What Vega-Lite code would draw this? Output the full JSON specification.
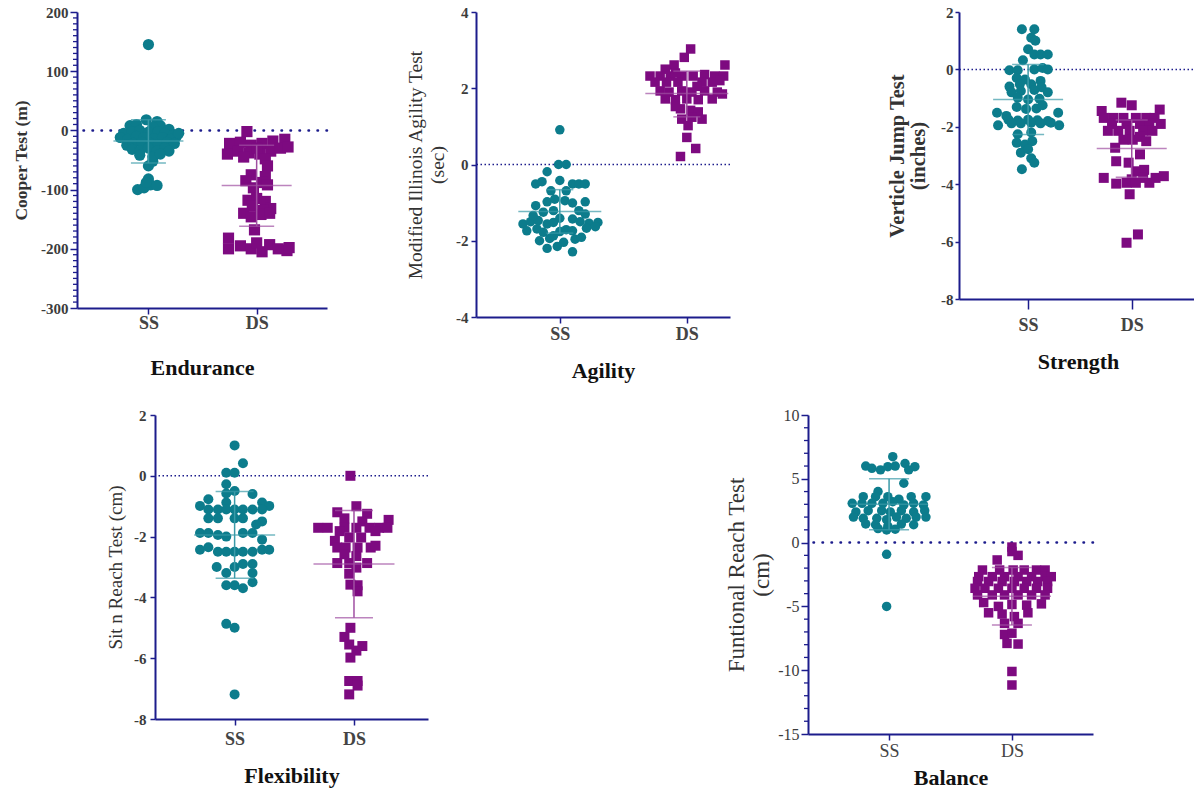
{
"$schema":"https://vega.github.io/schema/vega-lite/v6.json",
"padding":{"left":12,"top":5,"right":0,"bottom":0},
"background":"white",
"datasets":{
"minor":[
{"p":"E","v":-290},{"p":"E","v":-280},{"p":"E","v":-270},{"p":"E","v":-260},{"p":"E","v":-250},{"p":"E","v":-240},{"p":"E","v":-230},{"p":"E","v":-220},{"p":"E","v":-210},{"p":"E","v":-190},{"p":"E","v":-180},{"p":"E","v":-170},{"p":"E","v":-160},{"p":"E","v":-150},{"p":"E","v":-140},{"p":"E","v":-130},{"p":"E","v":-120},{"p":"E","v":-110},{"p":"E","v":-90},{"p":"E","v":-80},{"p":"E","v":-70},{"p":"E","v":-60},{"p":"E","v":-50},{"p":"E","v":-40},{"p":"E","v":-30},{"p":"E","v":-20},{"p":"E","v":-10},{"p":"E","v":10},{"p":"E","v":20},{"p":"E","v":30},{"p":"E","v":40},{"p":"E","v":50},{"p":"E","v":60},{"p":"E","v":70},{"p":"E","v":80},{"p":"E","v":90},{"p":"E","v":110},{"p":"E","v":120},{"p":"E","v":130},{"p":"E","v":140},{"p":"E","v":150},{"p":"E","v":160},{"p":"E","v":170},{"p":"E","v":180},{"p":"E","v":190},
{"p":"B","v":-14},{"p":"B","v":-13},{"p":"B","v":-12},{"p":"B","v":-11},{"p":"B","v":-9},{"p":"B","v":-8},{"p":"B","v":-7},{"p":"B","v":-6},{"p":"B","v":-4},{"p":"B","v":-3},{"p":"B","v":-2},{"p":"B","v":-1},{"p":"B","v":1},{"p":"B","v":2},{"p":"B","v":3},{"p":"B","v":4},{"p":"B","v":6},{"p":"B","v":7},{"p":"B","v":8},{"p":"B","v":9}
],
"st":[
{"p":"E","g":"SS","x":0,"m":-18,"lo":-55,"hi":18},
{"p":"E","g":"DS","x":1,"m":-93,"lo":-162,"hi":-25},
{"p":"A","g":"SS","x":0,"m":-1.23,"lo":-1.8,"hi":-0.66},
{"p":"A","g":"DS","x":1,"m":1.86,"lo":1.25,"hi":2.45},
{"p":"S","g":"SS","x":0,"m":-1.05,"lo":-2.27,"hi":0.17},
{"p":"S","g":"DS","x":1,"m":-2.76,"lo":-3.76,"hi":-1.76},
{"p":"F","g":"SS","x":0,"m":-1.95,"lo":-3.37,"hi":-0.52},
{"p":"F","g":"DS","x":1,"m":-2.9,"lo":-4.67,"hi":-1.14},
{"p":"B","g":"SS","x":0,"m":3.0,"lo":1.0,"hi":5.0},
{"p":"B","g":"DS","x":1,"m":-4.2,"lo":-6.45,"hi":-1.95}
],
"pts":[
{"p":"E","g":"SS","x":0,"y":145},{"p":"E","g":"SS","x":-0.1,"y":-100},{"p":"E","g":"SS","x":-0.04,"y":-97},{"p":"E","g":"SS","x":0.02,"y":-92},{"p":"E","g":"SS","x":0.08,"y":-93},{"p":"E","g":"SS","x":0,"y":-82},{"p":"E","g":"SS","x":-0.02,"y":-88},{"p":"E","g":"SS","x":0,"y":-60},{"p":"E","g":"SS","x":0.04,"y":-52},{"p":"E","g":"SS","x":-0.02,"y":18},{"p":"E","g":"SS","x":0.08,"y":15},{"p":"E","g":"SS","x":0.11,"y":8},{"p":"E","g":"SS","x":-0.17,"y":8},{"p":"E","g":"SS","x":-0.11,"y":10},{"p":"E","g":"SS","x":0.04,"y":5},{"p":"E","g":"SS","x":0.19,"y":2},{"p":"E","g":"SS","x":-0.23,"y":-5},{"p":"E","g":"SS","x":-0.15,"y":-2},{"p":"E","g":"SS","x":-0.08,"y":0},{"p":"E","g":"SS","x":0,"y":-3},{"p":"E","g":"SS","x":0.09,"y":-2},{"p":"E","g":"SS","x":0.15,"y":-5},{"p":"E","g":"SS","x":0.23,"y":-8},{"p":"E","g":"SS","x":0.26,"y":-10},{"p":"E","g":"SS","x":-0.26,"y":-12},{"p":"E","g":"SS","x":-0.19,"y":-15},{"p":"E","g":"SS","x":-0.11,"y":-10},{"p":"E","g":"SS","x":-0.04,"y":-12},{"p":"E","g":"SS","x":0.05,"y":-14},{"p":"E","g":"SS","x":0.13,"y":-12},{"p":"E","g":"SS","x":0.21,"y":-15},{"p":"E","g":"SS","x":0.28,"y":-5},{"p":"E","g":"SS","x":-0.2,"y":-25},{"p":"E","g":"SS","x":-0.14,"y":-22},{"p":"E","g":"SS","x":-0.06,"y":-20},{"p":"E","g":"SS","x":0.02,"y":-22},{"p":"E","g":"SS","x":0.09,"y":-25},{"p":"E","g":"SS","x":0.17,"y":-20},{"p":"E","g":"SS","x":0.24,"y":-22},{"p":"E","g":"SS","x":-0.15,"y":-32},{"p":"E","g":"SS","x":-0.08,"y":-35},{"p":"E","g":"SS","x":0,"y":-30},{"p":"E","g":"SS","x":0.08,"y":-35},{"p":"E","g":"SS","x":0.15,"y":-30},{"p":"E","g":"SS","x":0.19,"y":-35},{"p":"E","g":"SS","x":-0.08,"y":-42},{"p":"E","g":"SS","x":0.04,"y":-45},{"p":"E","g":"SS","x":0.11,"y":-40},
{"p":"E","g":"DS","x":0.91,"y":-2},{"p":"E","g":"DS","x":0.75,"y":-22},{"p":"E","g":"DS","x":0.85,"y":-20},{"p":"E","g":"DS","x":0.95,"y":-25},{"p":"E","g":"DS","x":1.05,"y":-22},{"p":"E","g":"DS","x":1.15,"y":-18},{"p":"E","g":"DS","x":1.26,"y":-15},{"p":"E","g":"DS","x":0.73,"y":-40},{"p":"E","g":"DS","x":0.83,"y":-35},{"p":"E","g":"DS","x":0.93,"y":-38},{"p":"E","g":"DS","x":1.03,"y":-40},{"p":"E","g":"DS","x":1.13,"y":-35},{"p":"E","g":"DS","x":1.22,"y":-30},{"p":"E","g":"DS","x":1.29,"y":-28},{"p":"E","g":"DS","x":1.0,"y":-30},{"p":"E","g":"DS","x":0.88,"y":-45},{"p":"E","g":"DS","x":1.08,"y":-48},{"p":"E","g":"DS","x":1.1,"y":-60},{"p":"E","g":"DS","x":0.95,"y":-75},{"p":"E","g":"DS","x":1.08,"y":-78},{"p":"E","g":"DS","x":0.9,"y":-85},{"p":"E","g":"DS","x":1.05,"y":-88},{"p":"E","g":"DS","x":0.97,"y":-97},{"p":"E","g":"DS","x":1.1,"y":-92},{"p":"E","g":"DS","x":0.92,"y":-118},{"p":"E","g":"DS","x":1.0,"y":-115},{"p":"E","g":"DS","x":1.08,"y":-120},{"p":"E","g":"DS","x":1.13,"y":-132},{"p":"E","g":"DS","x":0.96,"y":-128},{"p":"E","g":"DS","x":1.06,"y":-135},{"p":"E","g":"DS","x":0.88,"y":-140},{"p":"E","g":"DS","x":0.95,"y":-146},{"p":"E","g":"DS","x":1.04,"y":-142},{"p":"E","g":"DS","x":1.12,"y":-140},{"p":"E","g":"DS","x":0.98,"y":-168},{"p":"E","g":"DS","x":0.74,"y":-182},{"p":"E","g":"DS","x":0.74,"y":-200},{"p":"E","g":"DS","x":0.85,"y":-195},{"p":"E","g":"DS","x":0.95,"y":-200},{"p":"E","g":"DS","x":1.05,"y":-205},{"p":"E","g":"DS","x":1.12,"y":-193},{"p":"E","g":"DS","x":1.2,"y":-200},{"p":"E","g":"DS","x":1.28,"y":-203},{"p":"E","g":"DS","x":1.3,"y":-198},{"p":"E","g":"DS","x":1.0,"y":-190},
{"p":"A","g":"SS","x":0,"y":0.91},{"p":"A","g":"SS","x":-0.01,"y":0},{"p":"A","g":"SS","x":0.05,"y":0},{"p":"A","g":"SS","x":-0.1,"y":-0.19},{"p":"A","g":"SS","x":-0.19,"y":-0.51},{"p":"A","g":"SS","x":-0.14,"y":-0.45},{"p":"A","g":"SS","x":0,"y":-0.42},{"p":"A","g":"SS","x":0.1,"y":-0.51},{"p":"A","g":"SS","x":0.15,"y":-0.51},{"p":"A","g":"SS","x":0.2,"y":-0.51},{"p":"A","g":"SS","x":-0.07,"y":-0.69},{"p":"A","g":"SS","x":0.05,"y":-0.69},{"p":"A","g":"SS","x":-0.19,"y":-1.08},{"p":"A","g":"SS","x":-0.1,"y":-0.98},{"p":"A","g":"SS","x":-0.04,"y":-0.91},{"p":"A","g":"SS","x":0.04,"y":-0.95},{"p":"A","g":"SS","x":0.1,"y":-1.01},{"p":"A","g":"SS","x":0.2,"y":-0.98},{"p":"A","g":"SS","x":-0.13,"y":-1.25},{"p":"A","g":"SS","x":0.15,"y":-1.21},{"p":"A","g":"SS","x":0.2,"y":-1.3},{"p":"A","g":"SS","x":-0.05,"y":-1.21},{"p":"A","g":"SS","x":-0.29,"y":-1.56},{"p":"A","g":"SS","x":-0.23,"y":-1.5},{"p":"A","g":"SS","x":-0.17,"y":-1.47},{"p":"A","g":"SS","x":-0.1,"y":-1.56},{"p":"A","g":"SS","x":-0.05,"y":-1.52},{"p":"A","g":"SS","x":0,"y":-1.41},{"p":"A","g":"SS","x":0.1,"y":-1.43},{"p":"A","g":"SS","x":0.16,"y":-1.5},{"p":"A","g":"SS","x":0.23,"y":-1.54},{"p":"A","g":"SS","x":0.3,"y":-1.52},{"p":"A","g":"SS","x":-0.26,"y":-1.74},{"p":"A","g":"SS","x":-0.18,"y":-1.69},{"p":"A","g":"SS","x":-0.13,"y":-1.78},{"p":"A","g":"SS","x":0,"y":-1.76},{"p":"A","g":"SS","x":0.05,"y":-1.71},{"p":"A","g":"SS","x":0.1,"y":-1.74},{"p":"A","g":"SS","x":0.21,"y":-1.67},{"p":"A","g":"SS","x":0.28,"y":-1.63},{"p":"A","g":"SS","x":-0.16,"y":-2.0},{"p":"A","g":"SS","x":-0.08,"y":-1.94},{"p":"A","g":"SS","x":0.03,"y":-2.04},{"p":"A","g":"SS","x":0.12,"y":-1.96},{"p":"A","g":"SS","x":0.17,"y":-1.91},{"p":"A","g":"SS","x":-0.1,"y":-2.2},{"p":"A","g":"SS","x":-0.02,"y":-2.15},{"p":"A","g":"SS","x":0.1,"y":-2.29},{"p":"A","g":"SS","x":-0.05,"y":-1.87},{"p":"A","g":"SS","x":-0.21,"y":-1.34},
{"p":"A","g":"DS","x":1.03,"y":3.03},{"p":"A","g":"DS","x":0.98,"y":2.81},{"p":"A","g":"DS","x":1.3,"y":2.61},{"p":"A","g":"DS","x":0.9,"y":2.61},{"p":"A","g":"DS","x":0.83,"y":2.5},{"p":"A","g":"DS","x":0.71,"y":2.32},{"p":"A","g":"DS","x":0.79,"y":2.32},{"p":"A","g":"DS","x":0.87,"y":2.32},{"p":"A","g":"DS","x":0.96,"y":2.32},{"p":"A","g":"DS","x":1.05,"y":2.32},{"p":"A","g":"DS","x":1.14,"y":2.36},{"p":"A","g":"DS","x":1.22,"y":2.32},{"p":"A","g":"DS","x":1.29,"y":2.32},{"p":"A","g":"DS","x":0.75,"y":2.16},{"p":"A","g":"DS","x":0.84,"y":2.16},{"p":"A","g":"DS","x":0.93,"y":2.16},{"p":"A","g":"DS","x":1.12,"y":2.16},{"p":"A","g":"DS","x":1.2,"y":2.16},{"p":"A","g":"DS","x":1.26,"y":2.2},{"p":"A","g":"DS","x":0.79,"y":1.93},{"p":"A","g":"DS","x":0.86,"y":1.9},{"p":"A","g":"DS","x":0.96,"y":1.93},{"p":"A","g":"DS","x":1.04,"y":1.9},{"p":"A","g":"DS","x":1.14,"y":1.93},{"p":"A","g":"DS","x":1.24,"y":1.9},{"p":"A","g":"DS","x":1.28,"y":1.85},{"p":"A","g":"DS","x":0.83,"y":1.72},{"p":"A","g":"DS","x":0.91,"y":1.7},{"p":"A","g":"DS","x":1.0,"y":1.72},{"p":"A","g":"DS","x":1.09,"y":1.7},{"p":"A","g":"DS","x":1.2,"y":1.72},{"p":"A","g":"DS","x":0.95,"y":1.46},{"p":"A","g":"DS","x":1.03,"y":1.42},{"p":"A","g":"DS","x":1.09,"y":1.38},{"p":"A","g":"DS","x":0.96,"y":1.19},{"p":"A","g":"DS","x":1.04,"y":1.24},{"p":"A","g":"DS","x":1.12,"y":1.19},{"p":"A","g":"DS","x":1.01,"y":1.02},{"p":"A","g":"DS","x":1.0,"y":0.71},{"p":"A","g":"DS","x":1.07,"y":0.42},{"p":"A","g":"DS","x":0.95,"y":0.21},{"p":"A","g":"DS","x":0.91,"y":2.4},{"p":"A","g":"DS","x":1.08,"y":2.05},{"p":"A","g":"DS","x":0.91,"y":1.52},
{"p":"S","g":"SS","x":-0.06,"y":1.4},{"p":"S","g":"SS","x":0.06,"y":1.4},{"p":"S","g":"SS","x":0.03,"y":1.1},{"p":"S","g":"SS","x":0.07,"y":1.0},{"p":"S","g":"SS","x":0,"y":0.7},{"p":"S","g":"SS","x":0.06,"y":0.52},{"p":"S","g":"SS","x":0.12,"y":0.52},{"p":"S","g":"SS","x":0.19,"y":0.52},{"p":"S","g":"SS","x":-0.05,"y":0.32},{"p":"S","g":"SS","x":-0.18,"y":-0.03},{"p":"S","g":"SS","x":-0.1,"y":-0.03},{"p":"S","g":"SS","x":0.06,"y":0},{"p":"S","g":"SS","x":0.14,"y":0.05},{"p":"S","g":"SS","x":0.19,"y":0},{"p":"S","g":"SS","x":-0.11,"y":-0.3},{"p":"S","g":"SS","x":-0.03,"y":-0.35},{"p":"S","g":"SS","x":0.12,"y":-0.4},{"p":"S","g":"SS","x":-0.18,"y":-0.6},{"p":"S","g":"SS","x":-0.08,"y":-0.52},{"p":"S","g":"SS","x":0.03,"y":-0.52},{"p":"S","g":"SS","x":0.13,"y":-0.62},{"p":"S","g":"SS","x":-0.16,"y":-0.8},{"p":"S","g":"SS","x":-0.07,"y":-0.75},{"p":"S","g":"SS","x":0.06,"y":-0.72},{"p":"S","g":"SS","x":0.19,"y":-0.8},{"p":"S","g":"SS","x":-0.1,"y":-0.99},{"p":"S","g":"SS","x":0,"y":-1.05},{"p":"S","g":"SS","x":0.11,"y":-1.02},{"p":"S","g":"SS","x":-0.11,"y":-1.31},{"p":"S","g":"SS","x":-0.02,"y":-1.38},{"p":"S","g":"SS","x":0.08,"y":-1.36},{"p":"S","g":"SS","x":0.14,"y":-1.25},{"p":"S","g":"SS","x":-0.3,"y":-1.51},{"p":"S","g":"SS","x":0.29,"y":-1.51},{"p":"S","g":"SS","x":-0.21,"y":-1.62},{"p":"S","g":"SS","x":-0.19,"y":-1.75},{"p":"S","g":"SS","x":-0.1,"y":-1.78},{"p":"S","g":"SS","x":0,"y":-1.75},{"p":"S","g":"SS","x":0.09,"y":-1.77},{"p":"S","g":"SS","x":0.19,"y":-1.8},{"p":"S","g":"SS","x":-0.29,"y":-1.95},{"p":"S","g":"SS","x":-0.16,"y":-1.88},{"p":"S","g":"SS","x":-0.07,"y":-1.88},{"p":"S","g":"SS","x":0.03,"y":-1.86},{"p":"S","g":"SS","x":0.12,"y":-1.88},{"p":"S","g":"SS","x":0.22,"y":-1.86},{"p":"S","g":"SS","x":0.3,"y":-1.95},{"p":"S","g":"SS","x":-0.1,"y":-2.26},{"p":"S","g":"SS","x":0.03,"y":-2.2},{"p":"S","g":"SS","x":-0.11,"y":-2.56},{"p":"S","g":"SS","x":-0.03,"y":-2.62},{"p":"S","g":"SS","x":0.04,"y":-2.5},{"p":"S","g":"SS","x":-0.07,"y":-2.9},{"p":"S","g":"SS","x":0,"y":-2.78},{"p":"S","g":"SS","x":0.03,"y":-3.1},{"p":"S","g":"SS","x":0.06,"y":-3.25},{"p":"S","g":"SS","x":-0.06,"y":-3.48},
{"p":"S","g":"DS","x":0.9,"y":-1.16},{"p":"S","g":"DS","x":1.0,"y":-1.25},{"p":"S","g":"DS","x":0.71,"y":-1.45},{"p":"S","g":"DS","x":1.27,"y":-1.4},{"p":"S","g":"DS","x":0.73,"y":-1.69},{"p":"S","g":"DS","x":0.82,"y":-1.69},{"p":"S","g":"DS","x":0.92,"y":-1.69},{"p":"S","g":"DS","x":1.04,"y":-1.69},{"p":"S","g":"DS","x":1.14,"y":-1.69},{"p":"S","g":"DS","x":1.22,"y":-1.69},{"p":"S","g":"DS","x":0.81,"y":-1.9},{"p":"S","g":"DS","x":0.95,"y":-1.9},{"p":"S","g":"DS","x":1.08,"y":-1.9},{"p":"S","g":"DS","x":1.17,"y":-1.9},{"p":"S","g":"DS","x":1.28,"y":-1.9},{"p":"S","g":"DS","x":0.77,"y":-2.14},{"p":"S","g":"DS","x":0.87,"y":-2.14},{"p":"S","g":"DS","x":0.98,"y":-2.14},{"p":"S","g":"DS","x":1.11,"y":-2.14},{"p":"S","g":"DS","x":1.2,"y":-2.14},{"p":"S","g":"DS","x":0.92,"y":-2.45},{"p":"S","g":"DS","x":1.01,"y":-2.45},{"p":"S","g":"DS","x":1.08,"y":-2.35},{"p":"S","g":"DS","x":0.84,"y":-2.73},{"p":"S","g":"DS","x":0.85,"y":-3.2},{"p":"S","g":"DS","x":0.97,"y":-3.25},{"p":"S","g":"DS","x":1.08,"y":-2.96},{"p":"S","g":"DS","x":1.12,"y":-3.5},{"p":"S","g":"DS","x":1.04,"y":-3.55},{"p":"S","g":"DS","x":0.73,"y":-3.78},{"p":"S","g":"DS","x":0.85,"y":-3.98},{"p":"S","g":"DS","x":1.0,"y":-3.83},{"p":"S","g":"DS","x":1.11,"y":-3.78},{"p":"S","g":"DS","x":1.23,"y":-3.78},{"p":"S","g":"DS","x":1.31,"y":-3.72},{"p":"S","g":"DS","x":0.95,"y":-3.95},{"p":"S","g":"DS","x":1.04,"y":-3.95},{"p":"S","g":"DS","x":1.17,"y":-3.95},{"p":"S","g":"DS","x":0.98,"y":-4.35},{"p":"S","g":"DS","x":1.06,"y":-5.75},{"p":"S","g":"DS","x":0.95,"y":-6.04},{"p":"S","g":"DS","x":1.14,"y":-2.5},
{"p":"F","g":"SS","x":0,"y":1.0},{"p":"F","g":"SS","x":0.07,"y":0.41},{"p":"F","g":"SS","x":-0.07,"y":0.1},{"p":"F","g":"SS","x":0,"y":0.1},{"p":"F","g":"SS","x":-0.07,"y":-0.28},{"p":"F","g":"SS","x":-0.07,"y":-0.58},{"p":"F","g":"SS","x":0,"y":-0.5},{"p":"F","g":"SS","x":0.15,"y":-0.6},{"p":"F","g":"SS","x":-0.22,"y":-0.77},{"p":"F","g":"SS","x":-0.07,"y":-0.88},{"p":"F","g":"SS","x":-0.29,"y":-0.99},{"p":"F","g":"SS","x":0.23,"y":-0.88},{"p":"F","g":"SS","x":0.29,"y":-0.99},{"p":"F","g":"SS","x":-0.22,"y":-1.11},{"p":"F","g":"SS","x":-0.14,"y":-1.11},{"p":"F","g":"SS","x":-0.07,"y":-1.11},{"p":"F","g":"SS","x":0,"y":-1.11},{"p":"F","g":"SS","x":0.07,"y":-1.11},{"p":"F","g":"SS","x":0.15,"y":-1.11},{"p":"F","g":"SS","x":0.23,"y":-1.11},{"p":"F","g":"SS","x":-0.22,"y":-1.4},{"p":"F","g":"SS","x":-0.14,"y":-1.4},{"p":"F","g":"SS","x":0,"y":-1.4},{"p":"F","g":"SS","x":0.07,"y":-1.4},{"p":"F","g":"SS","x":0.23,"y":-1.5},{"p":"F","g":"SS","x":0.18,"y":-1.6},{"p":"F","g":"SS","x":-0.29,"y":-1.88},{"p":"F","g":"SS","x":-0.22,"y":-1.88},{"p":"F","g":"SS","x":-0.14,"y":-1.95},{"p":"F","g":"SS","x":-0.07,"y":-2.0},{"p":"F","g":"SS","x":0.07,"y":-1.88},{"p":"F","g":"SS","x":0.15,"y":-1.88},{"p":"F","g":"SS","x":0.23,"y":-2.1},{"p":"F","g":"SS","x":-0.29,"y":-2.43},{"p":"F","g":"SS","x":-0.22,"y":-2.35},{"p":"F","g":"SS","x":-0.14,"y":-2.5},{"p":"F","g":"SS","x":-0.07,"y":-2.5},{"p":"F","g":"SS","x":0,"y":-2.5},{"p":"F","g":"SS","x":0.07,"y":-2.5},{"p":"F","g":"SS","x":0.15,"y":-2.5},{"p":"F","g":"SS","x":0.23,"y":-2.43},{"p":"F","g":"SS","x":0.29,"y":-2.43},{"p":"F","g":"SS","x":-0.15,"y":-3.0},{"p":"F","g":"SS","x":-0.07,"y":-3.2},{"p":"F","g":"SS","x":0,"y":-3.0},{"p":"F","g":"SS","x":0.07,"y":-2.9},{"p":"F","g":"SS","x":0.15,"y":-2.9},{"p":"F","g":"SS","x":0.15,"y":-3.2},{"p":"F","g":"SS","x":-0.07,"y":-3.6},{"p":"F","g":"SS","x":0,"y":-3.6},{"p":"F","g":"SS","x":0.07,"y":-3.7},{"p":"F","g":"SS","x":0.15,"y":-3.5},{"p":"F","g":"SS","x":-0.07,"y":-4.87},{"p":"F","g":"SS","x":0,"y":-5.0},{"p":"F","g":"SS","x":0,"y":-7.19},
{"p":"F","g":"DS","x":0.97,"y":0},{"p":"F","g":"DS","x":1.02,"y":-1.0},{"p":"F","g":"DS","x":0.86,"y":-1.2},{"p":"F","g":"DS","x":1.11,"y":-1.25},{"p":"F","g":"DS","x":0.92,"y":-1.4},{"p":"F","g":"DS","x":1.07,"y":-1.5},{"p":"F","g":"DS","x":1.29,"y":-1.45},{"p":"F","g":"DS","x":0.7,"y":-1.71},{"p":"F","g":"DS","x":0.78,"y":-1.71},{"p":"F","g":"DS","x":0.92,"y":-1.71},{"p":"F","g":"DS","x":1.02,"y":-1.71},{"p":"F","g":"DS","x":1.13,"y":-1.71},{"p":"F","g":"DS","x":1.21,"y":-1.71},{"p":"F","g":"DS","x":1.28,"y":-1.71},{"p":"F","g":"DS","x":0.88,"y":-1.82},{"p":"F","g":"DS","x":1.18,"y":-1.82},{"p":"F","g":"DS","x":0.84,"y":-2.14},{"p":"F","g":"DS","x":0.96,"y":-2.03},{"p":"F","g":"DS","x":1.06,"y":-2.03},{"p":"F","g":"DS","x":0.86,"y":-2.36},{"p":"F","g":"DS","x":0.93,"y":-2.36},{"p":"F","g":"DS","x":1.03,"y":-2.36},{"p":"F","g":"DS","x":1.14,"y":-2.36},{"p":"F","g":"DS","x":1.18,"y":-2.3},{"p":"F","g":"DS","x":0.92,"y":-2.58},{"p":"F","g":"DS","x":1.02,"y":-2.64},{"p":"F","g":"DS","x":0.86,"y":-2.87},{"p":"F","g":"DS","x":0.96,"y":-2.87},{"p":"F","g":"DS","x":1.11,"y":-2.87},{"p":"F","g":"DS","x":1.02,"y":-3.02},{"p":"F","g":"DS","x":0.96,"y":-3.22},{"p":"F","g":"DS","x":0.97,"y":-3.58},{"p":"F","g":"DS","x":1.03,"y":-3.6},{"p":"F","g":"DS","x":1.03,"y":-3.8},{"p":"F","g":"DS","x":0.97,"y":-5.0},{"p":"F","g":"DS","x":0.92,"y":-5.3},{"p":"F","g":"DS","x":0.96,"y":-5.55},{"p":"F","g":"DS","x":1.07,"y":-5.6},{"p":"F","g":"DS","x":1.02,"y":-5.75},{"p":"F","g":"DS","x":0.97,"y":-5.98},{"p":"F","g":"DS","x":0.96,"y":-6.75},{"p":"F","g":"DS","x":1.03,"y":-6.75},{"p":"F","g":"DS","x":1.03,"y":-6.9},{"p":"F","g":"DS","x":0.96,"y":-7.19},
{"p":"B","g":"SS","x":0.03,"y":6.73},{"p":"B","g":"SS","x":-0.19,"y":6.0},{"p":"B","g":"SS","x":-0.14,"y":5.82},{"p":"B","g":"SS","x":-0.07,"y":5.7},{"p":"B","g":"SS","x":-0.01,"y":5.95},{"p":"B","g":"SS","x":0.05,"y":6.0},{"p":"B","g":"SS","x":0.13,"y":6.2},{"p":"B","g":"SS","x":0.21,"y":5.95},{"p":"B","g":"SS","x":0.16,"y":5.7},{"p":"B","g":"SS","x":0.12,"y":4.65},{"p":"B","g":"SS","x":-0.09,"y":4.0},{"p":"B","g":"SS","x":-0.21,"y":3.6},{"p":"B","g":"SS","x":-0.11,"y":3.6},{"p":"B","g":"SS","x":-0.01,"y":3.6},{"p":"B","g":"SS","x":0.08,"y":3.4},{"p":"B","g":"SS","x":0.18,"y":3.6},{"p":"B","g":"SS","x":0.3,"y":3.6},{"p":"B","g":"SS","x":-0.3,"y":3.08},{"p":"B","g":"SS","x":-0.22,"y":3.08},{"p":"B","g":"SS","x":-0.14,"y":3.08},{"p":"B","g":"SS","x":-0.05,"y":3.08},{"p":"B","g":"SS","x":0.03,"y":3.2},{"p":"B","g":"SS","x":0.12,"y":2.95},{"p":"B","g":"SS","x":0.2,"y":3.08},{"p":"B","g":"SS","x":0.28,"y":2.95},{"p":"B","g":"SS","x":-0.27,"y":2.4},{"p":"B","g":"SS","x":-0.17,"y":2.5},{"p":"B","g":"SS","x":-0.06,"y":2.5},{"p":"B","g":"SS","x":0.01,"y":2.4},{"p":"B","g":"SS","x":0.1,"y":2.5},{"p":"B","g":"SS","x":0.2,"y":2.4},{"p":"B","g":"SS","x":0.29,"y":2.5},{"p":"B","g":"SS","x":-0.29,"y":2.0},{"p":"B","g":"SS","x":-0.21,"y":1.9},{"p":"B","g":"SS","x":-0.1,"y":1.9},{"p":"B","g":"SS","x":-0.02,"y":1.8},{"p":"B","g":"SS","x":0.06,"y":2.0},{"p":"B","g":"SS","x":0.14,"y":1.9},{"p":"B","g":"SS","x":0.22,"y":2.0},{"p":"B","g":"SS","x":0.3,"y":2.0},{"p":"B","g":"SS","x":-0.19,"y":1.46},{"p":"B","g":"SS","x":-0.11,"y":1.4},{"p":"B","g":"SS","x":-0.01,"y":1.3},{"p":"B","g":"SS","x":0.1,"y":1.45},{"p":"B","g":"SS","x":0.2,"y":1.4},{"p":"B","g":"SS","x":-0.09,"y":1.1},{"p":"B","g":"SS","x":-0.02,"y":0.99},{"p":"B","g":"SS","x":0.05,"y":1.05},{"p":"B","g":"SS","x":-0.02,"y":-0.92},{"p":"B","g":"SS","x":-0.02,"y":-5.0},
{"p":"B","g":"DS","x":1.0,"y":-0.35},{"p":"B","g":"DS","x":1.0,"y":-0.7},{"p":"B","g":"DS","x":1.05,"y":-1.0},{"p":"B","g":"DS","x":0.88,"y":-1.36},{"p":"B","g":"DS","x":0.76,"y":-2.15},{"p":"B","g":"DS","x":0.9,"y":-2.15},{"p":"B","g":"DS","x":1.01,"y":-2.15},{"p":"B","g":"DS","x":1.1,"y":-2.15},{"p":"B","g":"DS","x":1.2,"y":-2.15},{"p":"B","g":"DS","x":1.27,"y":-2.15},{"p":"B","g":"DS","x":0.73,"y":-2.67},{"p":"B","g":"DS","x":0.84,"y":-2.67},{"p":"B","g":"DS","x":0.94,"y":-2.67},{"p":"B","g":"DS","x":1.05,"y":-2.67},{"p":"B","g":"DS","x":1.16,"y":-2.67},{"p":"B","g":"DS","x":1.27,"y":-2.67},{"p":"B","g":"DS","x":1.32,"y":-2.67},{"p":"B","g":"DS","x":0.72,"y":-3.05},{"p":"B","g":"DS","x":0.81,"y":-3.05},{"p":"B","g":"DS","x":0.92,"y":-3.05},{"p":"B","g":"DS","x":1.02,"y":-3.05},{"p":"B","g":"DS","x":1.12,"y":-3.05},{"p":"B","g":"DS","x":1.21,"y":-3.05},{"p":"B","g":"DS","x":1.29,"y":-3.05},{"p":"B","g":"DS","x":0.7,"y":-3.58},{"p":"B","g":"DS","x":0.78,"y":-3.58},{"p":"B","g":"DS","x":0.89,"y":-3.58},{"p":"B","g":"DS","x":1.0,"y":-3.58},{"p":"B","g":"DS","x":1.1,"y":-3.58},{"p":"B","g":"DS","x":1.2,"y":-3.58},{"p":"B","g":"DS","x":1.29,"y":-3.58},{"p":"B","g":"DS","x":0.72,"y":-4.1},{"p":"B","g":"DS","x":0.84,"y":-4.1},{"p":"B","g":"DS","x":0.94,"y":-4.1},{"p":"B","g":"DS","x":1.05,"y":-4.1},{"p":"B","g":"DS","x":1.16,"y":-4.1},{"p":"B","g":"DS","x":1.27,"y":-4.1},{"p":"B","g":"DS","x":0.77,"y":-4.7},{"p":"B","g":"DS","x":0.89,"y":-5.0},{"p":"B","g":"DS","x":1.0,"y":-4.85},{"p":"B","g":"DS","x":1.12,"y":-4.9},{"p":"B","g":"DS","x":1.24,"y":-4.8},{"p":"B","g":"DS","x":0.81,"y":-5.5},{"p":"B","g":"DS","x":0.92,"y":-5.6},{"p":"B","g":"DS","x":1.02,"y":-5.8},{"p":"B","g":"DS","x":1.13,"y":-5.5},{"p":"B","g":"DS","x":0.94,"y":-6.33},{"p":"B","g":"DS","x":1.05,"y":-6.33},{"p":"B","g":"DS","x":0.94,"y":-7.2},{"p":"B","g":"DS","x":1.0,"y":-7.1},{"p":"B","g":"DS","x":0.96,"y":-7.9},{"p":"B","g":"DS","x":1.05,"y":-7.95},{"p":"B","g":"DS","x":1.0,"y":-10.1},{"p":"B","g":"DS","x":1.0,"y":-11.16}
]
},
"spacing":26,
"vconcat":[
{"spacing":76,"hconcat":[
{"width":250,"height":296,"resolve":{"scale":{"color":"independent"}},
"layer":[
{"data":{"values":[{}]},"mark":{"type":"rule","color":"#1c1c8c","strokeWidth":2.5,"strokeDash":[0.5,8.5],"strokeCap":"round"},"encoding":{"y":{"datum":0,"type":"quantitative"}}},
{"data":{"name":"minor"},"transform":[{"filter":"datum.p=='E'"}],"mark":{"type":"tick","orient":"horizontal","size":4,"thickness":1.3,"xOffset":-2,"color":"#1c1c8c","opacity":1},"encoding":{"x":{"datum":-0.66,"type":"quantitative"},"y":{"field":"v","type":"quantitative"}}},
{"data":{"name":"pts"},"transform":[{"filter":"datum.p=='E'"}],"mark":{"type":"point","filled":true,"opacity":1,"size":125,"strokeWidth":0},
"encoding":{
"x":{"field":"x","type":"quantitative","scale":{"domain":[-0.66,1.65],"nice":false,"zero":false},"axis":{"values":[0,1],"labelExpr":"datum.value==0?'SS':'DS'","title":"Endurance","tickSize":6,"labelPadding":0,"titlePadding":25,"labelFontSize":18,"labelFontWeight":"bold","labelColor":"#444444","labelOverlap":false}},
"y":{"field":"y","type":"quantitative","scale":{"domain":[-300,200],"nice":false},"axis":{"values":[-300,-200,-100,0,100,200],"labelExpr":"''+datum.value","labelOverlap":false,"tickSize":7,"labelPadding":2,"labelFontSize":15,"labelFontWeight":"bold","labelColor":"#3c3c3c","title":"Cooper Test (m)","titleFontWeight":"bold","titleFontSize":17.5,"titlePadding":10}},
"color":{"field":"g","type":"nominal","scale":{"domain":["SS","DS"],"range":["#0c7c8c","#7d0a80"]},"legend":null},
"shape":{"field":"g","type":"nominal","scale":{"domain":["SS","DS"],"range":["circle","square"]},"legend":null}}},
{"data":{"name":"st"},"transform":[{"filter":"datum.p=='E'"}],"mark":{"type":"rule","strokeWidth":1.5},"encoding":{"x":{"field":"x","type":"quantitative"},"y":{"field":"lo","type":"quantitative"},"y2":{"field":"hi"},"color":{"field":"g","type":"nominal","scale":{"domain":["SS","DS"],"range":["#3a9aa8","#a050a2"]},"legend":null}}},
{"data":{"name":"st"},"transform":[{"filter":"datum.p=='E'"}],"mark":{"type":"tick","orient":"horizontal","size":70,"thickness":1.5},"encoding":{"x":{"field":"x","type":"quantitative"},"y":{"field":"m","type":"quantitative"},"color":{"field":"g","type":"nominal","scale":{"domain":["SS","DS"],"range":["#3a9aa8","#a050a2"]},"legend":null}}},
{"data":{"name":"st"},"transform":[{"filter":"datum.p=='E'"}],"mark":{"type":"tick","orient":"horizontal","size":35,"thickness":1.5},"encoding":{"x":{"field":"x","type":"quantitative"},"y":{"field":"lo","type":"quantitative"},"color":{"field":"g","type":"nominal","scale":{"domain":["SS","DS"],"range":["#3a9aa8","#a050a2"]},"legend":null}}},
{"data":{"name":"st"},"transform":[{"filter":"datum.p=='E'"}],"mark":{"type":"tick","orient":"horizontal","size":35,"thickness":1.5},"encoding":{"x":{"field":"x","type":"quantitative"},"y":{"field":"hi","type":"quantitative"},"color":{"field":"g","type":"nominal","scale":{"domain":["SS","DS"],"range":["#3a9aa8","#a050a2"]},"legend":null}}}
]},
{"spacing":156,"hconcat":[
{"width":254,"height":305,"resolve":{"scale":{"color":"independent"}},
"layer":[
{"data":{"values":[{}]},"mark":{"type":"rule","color":"#1c1c8c","strokeWidth":1.5,"strokeDash":[1.5,2.5]},"encoding":{"y":{"datum":0,"type":"quantitative"}}},
{"data":{"name":"pts"},"transform":[{"filter":"datum.p=='A'"}],"mark":{"type":"point","filled":true,"opacity":1,"size":90,"strokeWidth":0},
"encoding":{
"x":{"field":"x","type":"quantitative","scale":{"domain":[-0.66,1.34],"nice":false,"zero":false},"axis":{"values":[0,1],"labelExpr":"datum.value==0?'SS':'DS'","title":"Agility","tickSize":6,"labelPadding":2,"titlePadding":17,"labelFontSize":18,"labelFontWeight":"bold","labelColor":"#444444","labelOverlap":false}},
"y":{"field":"y","type":"quantitative","scale":{"domain":[-4,4],"nice":false},"axis":{"values":[-4,-2,0,2,4],"labelExpr":"''+datum.value","labelOverlap":false,"tickSize":5,"labelPadding":3,"labelFontSize":15,"labelFontWeight":"bold","labelColor":"#3c3c3c","title":["Modified Illinois Agility Test","(sec)"],"titleFontSize":19.5,"titleFontWeight":"normal","titleLineHeight":22,"titlePadding":8}},
"color":{"field":"g","type":"nominal","scale":{"domain":["SS","DS"],"range":["#0c7c8c","#7d0a80"]},"legend":null},
"shape":{"field":"g","type":"nominal","scale":{"domain":["SS","DS"],"range":["circle","square"]},"legend":null}}},
{"data":{"name":"st"},"transform":[{"filter":"datum.p=='A'"}],"mark":{"type":"rule","strokeWidth":1.5},"encoding":{"x":{"field":"x","type":"quantitative"},"y":{"field":"lo","type":"quantitative"},"y2":{"field":"hi"},"color":{"field":"g","type":"nominal","scale":{"domain":["SS","DS"],"range":["#3a9aa8","#a050a2"]},"legend":null}}},
{"data":{"name":"st"},"transform":[{"filter":"datum.p=='A'"}],"mark":{"type":"tick","orient":"horizontal","size":83,"thickness":1.5},"encoding":{"x":{"field":"x","type":"quantitative"},"y":{"field":"m","type":"quantitative"},"color":{"field":"g","type":"nominal","scale":{"domain":["SS","DS"],"range":["#3a9aa8","#a050a2"]},"legend":null}}},
{"data":{"name":"st"},"transform":[{"filter":"datum.p=='A'"}],"mark":{"type":"tick","orient":"horizontal","size":27,"thickness":1.5},"encoding":{"x":{"field":"x","type":"quantitative"},"y":{"field":"lo","type":"quantitative"},"color":{"field":"g","type":"nominal","scale":{"domain":["SS","DS"],"range":["#3a9aa8","#a050a2"]},"legend":null}}},
{"data":{"name":"st"},"transform":[{"filter":"datum.p=='A'"}],"mark":{"type":"tick","orient":"horizontal","size":27,"thickness":1.5},"encoding":{"x":{"field":"x","type":"quantitative"},"y":{"field":"hi","type":"quantitative"},"color":{"field":"g","type":"nominal","scale":{"domain":["SS","DS"],"range":["#3a9aa8","#a050a2"]},"legend":null}}}
]},
{"width":238,"height":287,"resolve":{"scale":{"color":"independent"}},
"layer":[
{"data":{"values":[{}]},"mark":{"type":"rule","color":"#1c1c8c","strokeWidth":1.5,"strokeDash":[1.5,2.5]},"encoding":{"y":{"datum":0,"type":"quantitative"}}},
{"data":{"name":"pts"},"transform":[{"filter":"datum.p=='S'"}],"mark":{"type":"point","filled":true,"opacity":1,"size":100,"strokeWidth":0},
"encoding":{
"x":{"field":"x","type":"quantitative","scale":{"domain":[-0.667,1.63],"nice":false,"zero":false},"axis":{"values":[0,1],"labelExpr":"datum.value==0?'SS':'DS'","title":"Strength","tickSize":10,"labelPadding":7,"titlePadding":17,"labelFontSize":18,"labelFontWeight":"bold","labelColor":"#444444","labelOverlap":false}},
"y":{"field":"y","type":"quantitative","scale":{"domain":[-8,2],"nice":false},"axis":{"values":[-8,-6,-4,-2,0,2],"labelExpr":"''+datum.value","labelOverlap":false,"tickSize":4,"labelPadding":2,"labelFontSize":15,"labelFontWeight":"bold","labelColor":"#3c3c3c","title":["Verticle Jump Test","(inches)"],"titleFontSize":20.5,"titleFontWeight":"bold","titleLineHeight":21,"titlePadding":12}},
"color":{"field":"g","type":"nominal","scale":{"domain":["SS","DS"],"range":["#0c7c8c","#7d0a80"]},"legend":null},
"shape":{"field":"g","type":"nominal","scale":{"domain":["SS","DS"],"range":["circle","square"]},"legend":null}}},
{"data":{"name":"st"},"transform":[{"filter":"datum.p=='S'"}],"mark":{"type":"rule","strokeWidth":1.5},"encoding":{"x":{"field":"x","type":"quantitative"},"y":{"field":"lo","type":"quantitative"},"y2":{"field":"hi"},"color":{"field":"g","type":"nominal","scale":{"domain":["SS","DS"],"range":["#3a9aa8","#a050a2"]},"legend":null}}},
{"data":{"name":"st"},"transform":[{"filter":"datum.p=='S'"}],"mark":{"type":"tick","orient":"horizontal","size":70,"thickness":1.5},"encoding":{"x":{"field":"x","type":"quantitative"},"y":{"field":"m","type":"quantitative"},"color":{"field":"g","type":"nominal","scale":{"domain":["SS","DS"],"range":["#3a9aa8","#a050a2"]},"legend":null}}},
{"data":{"name":"st"},"transform":[{"filter":"datum.p=='S'"}],"mark":{"type":"tick","orient":"horizontal","size":32,"thickness":1.5},"encoding":{"x":{"field":"x","type":"quantitative"},"y":{"field":"lo","type":"quantitative"},"color":{"field":"g","type":"nominal","scale":{"domain":["SS","DS"],"range":["#3a9aa8","#a050a2"]},"legend":null}}},
{"data":{"name":"st"},"transform":[{"filter":"datum.p=='S'"}],"mark":{"type":"tick","orient":"horizontal","size":32,"thickness":1.5},"encoding":{"x":{"field":"x","type":"quantitative"},"y":{"field":"hi","type":"quantitative"},"color":{"field":"g","type":"nominal","scale":{"domain":["SS","DS"],"range":["#3a9aa8","#a050a2"]},"legend":null}}}
]}
]}
]},
{"spacing":0,"hconcat":[
{"width":29,"height":1,"data":{"values":[{}]},"mark":{"type":"point","opacity":0},"encoding":{}},
{"spacing":296,"hconcat":[
{"width":273,"height":304,"resolve":{"scale":{"color":"independent"}},
"layer":[
{"data":{"values":[{}]},"mark":{"type":"rule","color":"#1c1c8c","strokeWidth":1.5,"strokeDash":[1.5,2.5]},"encoding":{"y":{"datum":0,"type":"quantitative"}}},
{"data":{"name":"pts"},"transform":[{"filter":"datum.p=='F'"}],"mark":{"type":"point","filled":true,"opacity":1,"size":100,"strokeWidth":0},
"encoding":{
"x":{"field":"x","type":"quantitative","scale":{"domain":[-0.667,1.62],"nice":false,"zero":false},"axis":{"values":[0,1],"labelExpr":"datum.value==0?'SS':'DS'","title":"Flexibility","tickSize":6,"labelPadding":5,"titlePadding":17,"labelFontSize":18,"labelFontWeight":"bold","labelColor":"#444444","labelOverlap":false}},
"y":{"field":"y","type":"quantitative","scale":{"domain":[-8,2],"nice":false},"axis":{"values":[-8,-6,-4,-2,0,2],"labelExpr":"''+datum.value","labelOverlap":false,"tickSize":5,"labelPadding":4,"labelFontSize":15,"labelFontWeight":"bold","labelColor":"#3c3c3c","title":"Sit n Reach Test (cm)","titleFontSize":19,"titleFontWeight":"normal","titlePadding":8}},
"color":{"field":"g","type":"nominal","scale":{"domain":["SS","DS"],"range":["#0c7c8c","#7d0a80"]},"legend":null},
"shape":{"field":"g","type":"nominal","scale":{"domain":["SS","DS"],"range":["circle","square"]},"legend":null}}},
{"data":{"name":"st"},"transform":[{"filter":"datum.p=='F'"}],"mark":{"type":"rule","strokeWidth":1.5},"encoding":{"x":{"field":"x","type":"quantitative"},"y":{"field":"lo","type":"quantitative"},"y2":{"field":"hi"},"color":{"field":"g","type":"nominal","scale":{"domain":["SS","DS"],"range":["#3a9aa8","#a050a2"]},"legend":null}}},
{"data":{"name":"st"},"transform":[{"filter":"datum.p=='F'"}],"mark":{"type":"tick","orient":"horizontal","size":81,"thickness":1.5},"encoding":{"x":{"field":"x","type":"quantitative"},"y":{"field":"m","type":"quantitative"},"color":{"field":"g","type":"nominal","scale":{"domain":["SS","DS"],"range":["#3a9aa8","#a050a2"]},"legend":null}}},
{"data":{"name":"st"},"transform":[{"filter":"datum.p=='F'"}],"mark":{"type":"tick","orient":"horizontal","size":38,"thickness":1.5},"encoding":{"x":{"field":"x","type":"quantitative"},"y":{"field":"lo","type":"quantitative"},"color":{"field":"g","type":"nominal","scale":{"domain":["SS","DS"],"range":["#3a9aa8","#a050a2"]},"legend":null}}},
{"data":{"name":"st"},"transform":[{"filter":"datum.p=='F'"}],"mark":{"type":"tick","orient":"horizontal","size":38,"thickness":1.5},"encoding":{"x":{"field":"x","type":"quantitative"},"y":{"field":"hi","type":"quantitative"},"color":{"field":"g","type":"nominal","scale":{"domain":["SS","DS"],"range":["#3a9aa8","#a050a2"]},"legend":null}}}
]},
{"width":285,"height":319,"resolve":{"scale":{"color":"independent"}},
"layer":[
{"data":{"values":[{}]},"mark":{"type":"rule","color":"#1c1c8c","strokeWidth":2.5,"strokeDash":[0.5,8.5],"strokeCap":"round"},"encoding":{"y":{"datum":0,"type":"quantitative"}}},
{"data":{"name":"minor"},"transform":[{"filter":"datum.p=='B'"}],"mark":{"type":"tick","orient":"horizontal","size":4,"thickness":1.3,"xOffset":-2,"color":"#1c1c8c","opacity":1},"encoding":{"x":{"datum":-0.66,"type":"quantitative"},"y":{"field":"v","type":"quantitative"}}},
{"data":{"name":"pts"},"transform":[{"filter":"datum.p=='B'"}],"mark":{"type":"point","filled":true,"opacity":1,"size":90,"strokeWidth":0},
"encoding":{
"x":{"field":"x","type":"quantitative","scale":{"domain":[-0.66,1.66],"nice":false,"zero":false},"axis":{"values":[0,1],"labelExpr":"datum.value==0?'SS':'DS'","title":"Balance","tickSize":6,"labelPadding":2,"titlePadding":7,"labelFontSize":18,"labelFontWeight":"normal","labelColor":"#444444","labelOverlap":false}},
"y":{"field":"y","type":"quantitative","scale":{"domain":[-15,10],"nice":false},"axis":{"values":[-15,-10,-5,0,5,10],"labelExpr":"''+datum.value","labelOverlap":false,"tickSize":7,"labelPadding":2,"labelFontWeight":"normal","labelFontSize":16,"labelColor":"#3c3c3c","title":["Funtional Reach Test","(cm)"],"titleFontSize":23,"titleFontWeight":"normal","titleLineHeight":25,"titlePadding":4}},
"color":{"field":"g","type":"nominal","scale":{"domain":["SS","DS"],"range":["#0c7c8c","#7d0a80"]},"legend":null},
"shape":{"field":"g","type":"nominal","scale":{"domain":["SS","DS"],"range":["circle","square"]},"legend":null}}},
{"data":{"name":"st"},"transform":[{"filter":"datum.p=='B'"}],"mark":{"type":"rule","strokeWidth":1.5},"encoding":{"x":{"field":"x","type":"quantitative"},"y":{"field":"lo","type":"quantitative"},"y2":{"field":"hi"},"color":{"field":"g","type":"nominal","scale":{"domain":["SS","DS"],"range":["#3a9aa8","#a050a2"]},"legend":null}}},
{"data":{"name":"st"},"transform":[{"filter":"datum.p=='B'"}],"mark":{"type":"tick","orient":"horizontal","size":78,"thickness":1.5},"encoding":{"x":{"field":"x","type":"quantitative"},"y":{"field":"m","type":"quantitative"},"color":{"field":"g","type":"nominal","scale":{"domain":["SS","DS"],"range":["#3a9aa8","#a050a2"]},"legend":null}}},
{"data":{"name":"st"},"transform":[{"filter":"datum.p=='B'"}],"mark":{"type":"tick","orient":"horizontal","size":40,"thickness":1.5},"encoding":{"x":{"field":"x","type":"quantitative"},"y":{"field":"lo","type":"quantitative"},"color":{"field":"g","type":"nominal","scale":{"domain":["SS","DS"],"range":["#3a9aa8","#a050a2"]},"legend":null}}},
{"data":{"name":"st"},"transform":[{"filter":"datum.p=='B'"}],"mark":{"type":"tick","orient":"horizontal","size":40,"thickness":1.5},"encoding":{"x":{"field":"x","type":"quantitative"},"y":{"field":"hi","type":"quantitative"},"color":{"field":"g","type":"nominal","scale":{"domain":["SS","DS"],"range":["#3a9aa8","#a050a2"]},"legend":null}}}
]}
]}
]}
],
"config":{
"view":{"stroke":null},
"font":"Liberation Serif",
"axis":{"grid":false,"domainColor":"#1c1c8c","domainWidth":2,"tickColor":"#1c1c8c","tickWidth":1.5,"labelFont":"Liberation Serif","labelColor":"#444444","labelFontWeight":"bold","labelFontSize":14,"titleFont":"Liberation Serif","titleColor":"#333333","labelFlush":false,"labelOverlap":false,"titleLineHeight":20},
"axisX":{"labelFontSize":18,"titleFontSize":22,"titleFontWeight":"bold","titleColor":"#111111"}
}
}
